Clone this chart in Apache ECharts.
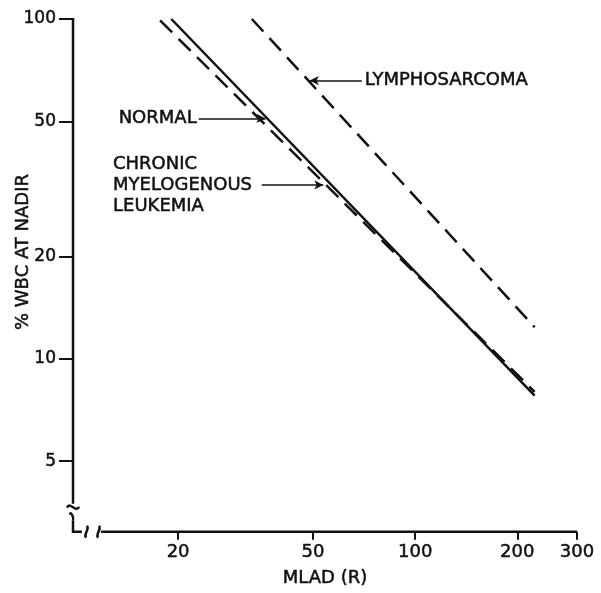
<!DOCTYPE html>
<html>
<head>
<meta charset="utf-8">
<script src="https://cdn.jsdelivr.net/npm/echarts@6.0.0/dist/echarts.min.js"></script>
<style>
    html, body { margin: 0; padding: 0; background: #fff; }
    #chart { width: 601px; height: 593px; }
</style>
</head>
<body>
<div id="chart"></div>
<script>
const xTicks = [20, 50, 100, 200, 300];
const yTicks = [5, 10, 20, 50, 100];
const xRange = [9.8, 300];
const yRange = [3.1, 100];

// each line: [MLAD, %WBC] at both ends
const normalLine = [[19.1, 100], [225, 7.8]];
const cmlLine = [[17.7, 99], [225, 8.0]];
const lymphoLine = [[33.0, 100], [225, 12.4]];

// arrows: [tail, tip]
const normalArrow = [[23.0, 51], [36.2, 51]];
const cmlArrow = [[35.3, 32.5], [53.6, 32.5]];
const lymphoArrow = [[69.6, 65.9], [48.9, 65.9]];

const font = 'DejaVu Sans';
const ink = '#111';
const chart = echarts.init(document.getElementById('chart'));

function arrow(pts) {
    return {
        silent: true,
        symbol: ['none', 'arrow'],
        symbolSize: [7, 9],
        label: { show: false },
        lineStyle: { color: ink, width: 1.5, type: 'solid' },
        data: [[{ coord: pts[0] }, { coord: pts[1] }]]
    };
}

function lineSeries(name, data, dashed, pts) {
    return {
        name: name,
        type: 'line',
        data: data,
        symbol: 'none',
        animation: false,
        lineStyle: {
            color: ink,
            width: 2.5,
            type: dashed ? [17, 9] : 'solid'
        },
        markLine: arrow(pts)
    };
}

// slightly heavier lettering, like the plotter text
const heavy = { textBorderColor: ink, textBorderWidth: 0.5 };

let option = {
    animation: false,
    grid: { left: 73, right: 24, top: 19, bottom: 58 },
    xAxis: {
        type: 'log',
        min: xRange[0],
        max: xRange[1],
        name: 'MLAD (R)',
        nameLocation: 'middle',
        nameGap: 38,
        nameTextStyle: Object.assign({ color: ink, fontSize: 18, fontFamily: font }, heavy),
        axisLine: { show: false },
        splitLine: { show: false },
        minorTick: { show: false },
        axisTick: { show: true, length: 8, customValues: xTicks, lineStyle: { color: ink, width: 2 } },
        axisLabel: Object.assign({ customValues: xTicks, color: ink, fontSize: 18, fontFamily: font, margin: 12 }, heavy)
    },
    yAxis: {
        type: 'log',
        min: yRange[0],
        max: yRange[1],
        axisLine: { show: false },
        splitLine: { show: false },
        minorTick: { show: false },
        axisTick: { show: true, length: 14, customValues: yTicks, lineStyle: { color: ink, width: 2 } },
        axisLabel: Object.assign({ customValues: yTicks, color: ink, fontSize: 17, fontFamily: font, margin: 17 }, heavy)
    },
    series: [
        lineSeries('NORMAL', normalLine, false, normalArrow),
        lineSeries('CML', cmlLine, true, cmlArrow),
        lineSeries('LYMPHOSARCOMA', lymphoLine, true, lymphoArrow)
    ]
};
chart.setOption(option);

// hand-drawn looking axes with break marks, and annotation texts
const px = function (p) { return chart.convertToPixel({ gridIndex: 0 }, p); };
const origin = px([xRange[0], yRange[0]]);
const axTop = px([xRange[0], yRange[1]]);
const axRight = px([xRange[1], yRange[0]]);
const ax = origin[0], ay = origin[1];
const axStyle = { stroke: ink, lineWidth: 2.5, fill: null };
const nTail = px(normalArrow[0]);
const cTail = px(cmlArrow[0]);
const lTail = px(lymphoArrow[0]);
const txt = function (x, y, s, align) {
    return {
        type: 'text', x: x, y: y, silent: true,
        style: {
            text: s, fill: ink, stroke: ink, lineWidth: 0.5,
            font: '18px "' + font + '"', align: align, verticalAlign: 'middle', lineHeight: 21
        }
    };
};

chart.setOption({
    graphic: [
        { type: 'line', shape: { x1: ax, y1: axTop[1] - 1, x2: ax, y2: ay - 28 }, style: axStyle },
        { type: 'bezierCurve', shape: { x1: ax - 6, y1: ay - 24, cpx1: ax - 3, cpy1: ay - 31, cpx2: ax + 3, cpy2: ay - 18, x2: ax + 6, y2: ay - 25 }, style: axStyle },
        { type: 'bezierCurve', shape: { x1: ax - 3, y1: ay - 17, cpx1: ax - 3, cpy1: ay - 21, cpx2: ax + 1, cpy2: ay - 16, x2: ax, y2: ay - 11 }, style: axStyle },
        { type: 'polyline', shape: { points: [[ax, ay - 11], [ax, ay], [ax + 9, ay]] }, style: axStyle },
        { type: 'bezierCurve', shape: { x1: ax + 13, y1: ay + 6, cpx1: ax + 10, cpy1: ay + 2, cpx2: ax + 17, cpy2: ay - 2, x2: ax + 14, y2: ay - 6 }, style: axStyle },
        { type: 'bezierCurve', shape: { x1: ax + 25, y1: ay + 6, cpx1: ax + 22, cpy1: ay + 2, cpx2: ax + 29, cpy2: ay - 2, x2: ax + 26, y2: ay - 6 }, style: axStyle },
        { type: 'line', shape: { x1: ax + 28, y1: ay, x2: axRight[0], y2: ay }, style: axStyle },
        {
            type: 'text', x: 23, y: 252, rotation: Math.PI / 2, silent: true,
            style: { text: '% WBC AT NADIR', fill: ink, stroke: ink, lineWidth: 0.5, font: '18px "' + font + '"', align: 'center', verticalAlign: 'middle' }
        },
        txt(nTail[0] - 2, nTail[1], 'NORMAL', 'right'),
        txt(113, cTail[1], 'CHRONIC\nMYELOGENOUS\nLEUKEMIA', 'left'),
        txt(lTail[0] + 3, lTail[1], 'LYMPHOSARCOMA', 'left')
    ]
});
</script>
</body>
</html>
